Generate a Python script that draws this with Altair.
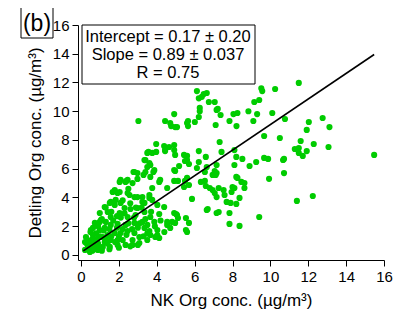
import altair as alt
import pandas as pd

# Scatter data (NK Org conc. vs Detling Org conc., ug/m3)
nk = [
 6.12,6.48,6.22,6.38,6.64,7.06,6.27,6.27,7.22,7.37,6.22,6.01,5.65,5.65,4.92,4.97,7.11,8.05,8.26,7.84,
 8.21,8.84,9.1,9.3,9.15,9.41,9.52,9.57,10.25,10.1,9.67,10.5,7.32,7.42,8.1,8.2,8.1,8.52,8.9,9.25,
 9.67,9.88,10.72,4.92,4.97,5.6,5.49,5.7,5.18,4.97,6.22,6.22,6.59,6.12,6.54,7.06,7.16,6.95,8.2,9.93,5.6,
 3.03,4.44,4.76,3.97,4.39,4.65,4.44,3.97,3.56,3.4,3.66,3.5,3.82,2.77,3.3,4.92,2.46,2.98,4.18,
 11.5,10.77,12.03,12.76,13.12,11.92,11.6,12.29,13.07,11.29,11.5,11.92,11.5,11.71,15.48,
 10.67,10.72,11.4,12.24,
 5.12,5.49,5.44,5.7,5.86,6.33,6.54,6.59,6.8,6.95,7.27,7.53,7.06,7.16,7.58,8.0,8.1,7.95,8.26,8.47,
 8.63,8.63,8.37,7.69,7.9,8.2,6.69,7.16,7.84,7.84,8.37,9.41,5.02,5.12,5.54,5.7,5.54,4.81,7.11,
 2.04,2.4,4.13,4.92,4.55,3.76,1.78,1.93,2.56,2.82,3.61,3.24,4.03,4.39,4.92,1.57,1.78,2.09,2.3,2.61,
 2.98,1.41,1.57,2.04,2.46,2.88,3.35,3.66,4.13,1.31,0.99,0.63,0.99,1.25,1.57,1.93,2.35,2.82,3.24,3.5,
 3.87,3.35,3.61,4.03,4.55,4.97,4.71,0.26,0.63,0.89,1.15,1.41,1.78,2.09,2.46,2.82,3.08,2.72,2.2,1.93,
 1.57,1.25,0.73,0.21,0.37,0.78,1.15,1.52,1.93,2.35,2.72,3.08,3.5,3.92,0.21,0.47,0.89,3.66,4.13,4.55,5.07,
 0.4,0.5,0.6,0.7,0.8,0.9,1.0,1.1,1.2,1.3,1.4,1.5,1.6,1.7,1.8,1.9,2.0,2.1,2.2,2.3,2.4,2.5,2.6,2.7,2.8,
 2.9,3.0,3.1,3.2,3.4,3.5,3.7,3.9,4.2,4.4,0.3,0.5,0.9,1.1,1.3,1.6,1.9,2.2,2.5,1.0,1.5,2.0,2.6,3.0,3.3,0.6,0.4,
 1.78,2.09,2.35,2.72,2.82,2.98,3.35,3.5,3.76,3.61,3.87,3.4,3.66,2.04,1.67,2.46,2.98,3.24,3.61,3.76,3.35,
 1.83,1.52,1.25,0.99,1.05,0.73,0.52,4.71,5.07,5.6,6.75,7.16,4.44,4.92,5.44,5.6,6.64,7.16,7.27,6.64,5.6,4.03,
]
detling = [
 11.4,11.2,10.9,11.0,11.27,10.64,10.23,10.0,10.16,9.74,9.6,9.25,9.32,8.97,9.8,8.9,9.04,9.8,9.88,9.32,
 8.97,10.0,9.32,9.8,10.64,10.78,11.6,11.4,11.55,9.88,8.28,8.14,7.86,7.17,7.3,6.82,6.26,6.68,6.19,6.47,
 6.75,6.68,6.68,7.3,6.96,6.89,6.54,6.33,6.19,5.84,7.23,6.47,6.82,6.05,5.77,5.84,5.7,5.57,5.43,5.3,5.36,
 9.32,9.32,8.97,7.72,7.58,7.51,7.23,7.17,7.17,6.6,6.26,6.12,5.77,5.77,5.57,5.91,5.22,5.29,5.22,
 11.97,9.46,9.25,9.53,8.9,8.7,7.93,7.72,7.51,7.37,7.44,7.23,7.1,6.89,6.96,
 6.61,5.7,3.76,4.1,
 5.15,5.15,4.73,4.87,3.9,5.08,5.15,4.8,4.66,4.52,4.66,4.52,4.31,4.03,4.17,4.73,4.66,4.38,5.36,5.08,
 5.0,4.66,3.97,3.69,3.62,3.55,3.2,2.92,2.92,2.16,2.02,2.64,2.85,2.57,2.57,2.23,1.74,2.3,5.57,
 5.08,5.15,5.08,5.15,4.66,4.66,4.45,4.31,4.17,4.03,3.97,3.69,3.48,3.34,2.92,3.69,3.48,3.62,3.27,3.2,
 3.27,2.99,2.64,2.92,2.64,2.78,2.99,2.64,2.85,2.3,2.3,1.88,1.74,1.88,2.09,2.16,2.09,2.23,2.3,2.09,
 2.3,1.88,1.67,1.74,2.09,2.23,1.88,1.25,1.39,1.18,1.25,1.39,1.53,1.53,1.67,1.53,1.25,1.04,1.04,1.04,
 1.04,0.9,0.9,0.9,0.56,0.56,0.56,0.56,0.7,0.7,0.7,0.83,1.04,1.25,0.35,0.21,0.35,1.39,1.18,2.3,2.78,
 1.0,0.7,1.1,0.4,1.5,0.8,1.3,0.3,1.7,1.1,0.8,1.8,1.3,2.4,0.9,1.9,1.3,2.6,1.8,2.9,1.4,2.2,3.6,1.8,2.6,
 3.3,1.9,2.2,3.3,2.5,1.5,3.0,2.0,2.4,1.6,0.8,1.6,2.0,2.5,3.3,3.0,2.7,3.8,4.6,0.5,0.4,0.5,0.6,0.7,1.3,0.3,0.5,
 4.52,5.22,5.08,5.0,5.77,5.7,6.6,7.1,7.1,6.4,5.9,5.77,5.43,4.38,4.38,4.31,4.03,4.03,4.17,3.83,3.62,
 3.83,3.62,3.34,2.92,2.43,2.23,1.74,9.18,8.9,9.18,10.64,10.09,7.3,7.65,6.96,6.61,6.12,6.26,2.99,3.13,1.6,1.39,
]

# Fitted line endpoints
fit_x = [0.12, 15.48]
fit_y = [0.28, 13.95]

tick_values = [0, 2, 4, 6, 8, 10, 12, 14, 16]
stats_lines = ["Intercept = 0.17 ± 0.20", "Slope = 0.89 ± 0.037", "R = 0.75"]
panel_label = "(b)"

FONT = "Liberation Sans"
GREEN = "#00cc00"

df = pd.DataFrame({"nk": nk, "detling": detling})
fit_df = pd.DataFrame({"nk": fit_x, "detling": fit_y})

xscale = alt.Scale(domain=[-0.16, 16], nice=False, zero=False)
yscale = alt.Scale(domain=[-0.35, 16], nice=False, zero=False)

common = dict(grid=False, tickSize=6, tickColor="black", domainColor="black", labelColor="black",
              labelFont=FONT, labelFontSize=15, titleFont=FONT, titleFontSize=17,
              titleFontWeight="normal", titleColor="black", labelPadding=3, labelOverlap=False,
              labelFlush=False, values=tick_values, tickCount=9)
xaxis = alt.Axis(title="NK Org conc. (µg/m³)", titlePadding=8, **common)
yaxis = alt.Axis(title="Detling Org conc. (µg/m³)", titlePadding=8, **common)

points = alt.Chart(df).mark_circle(size=38, color=GREEN, opacity=1).encode(
    x=alt.X("nk:Q", scale=xscale, axis=xaxis),
    y=alt.Y("detling:Q", scale=yscale, axis=yaxis),
)

line = alt.Chart(fit_df).mark_line(color="black", strokeWidth=1.6).encode(
    x=alt.X("nk:Q", scale=xscale, axis=xaxis),
    y=alt.Y("detling:Q", scale=yscale, axis=yaxis),
)

one = pd.DataFrame({"a": [0]})

box = alt.Chart(one).mark_rect(fill="white", stroke="black", strokeWidth=1).encode(
    x=alt.value(4), x2=alt.value(177), y=alt.value(0), y2=alt.value(59)
)

def text_layer(txt, xpix, ypix, size):
    return alt.Chart(pd.DataFrame({"t": [txt]})).mark_text(
        font=FONT, fontSize=size, color="black", align="center", baseline="middle"
    ).encode(text="t:N", x=alt.value(xpix), y=alt.value(ypix))

stats = [text_layer(s, 90, yp, 16.5) for s, yp in zip(stats_lines, [12, 30, 48])]

blabel_box = alt.Chart(one).mark_rect(fill="white", stroke="black", strokeWidth=1).encode(
    x=alt.value(-57), x2=alt.value(-25), y=alt.value(-18), y2=alt.value(13)
)
blabel = text_layer(panel_label, -41, -1, 23)

chart = alt.layer(points, line, box, *stats, blabel_box, blabel).properties(
    width=306, height=235,
    autosize=alt.AutoSizeParams(type="none"),
    padding={"left": 70, "top": 17, "right": 9, "bottom": 50},
).configure_view(stroke=None)

chart.save("out.html", embed_options={"renderer": "svg", "actions": False})
